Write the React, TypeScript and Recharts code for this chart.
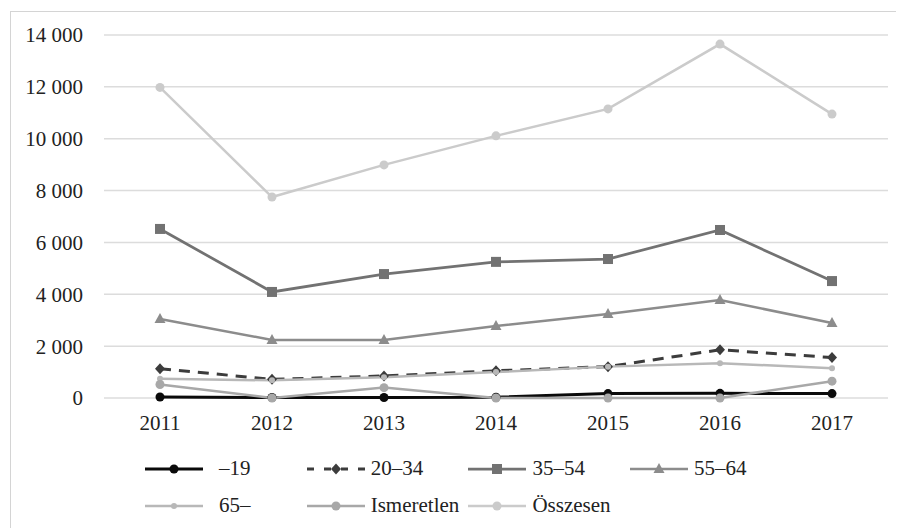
import { CartesianGrid, Legend, Line, LineChart, XAxis, YAxis } from "recharts";

const years = ['2011', '2012', '2013', '2014', '2015', '2016', '2017'];
const under19 = [40, 20, 20, 30, 170, 180, 170];
const age20to34 = [1130, 720, 850, 1050, 1210, 1860, 1560];
const age35to54 = [6520, 4090, 4780, 5250, 5360, 6480, 4510];
const age55to64 = [3050, 2240, 2240, 2780, 3240, 3780, 2890];
const over65 = [740, 680, 800, 1000, 1210, 1340, 1150];
const unknown = [520, 0, 400, 0, 0, 0, 650];
const total = [11980, 7750, 8990, 10110, 11150, 13650, 10950];
const yTicks = [0, 2000, 4000, 6000, 8000, 10000, 12000, 14000];

const data = years.map((year, i) => ({
  year,
  u19: under19[i],
  a2034: age20to34[i],
  a3554: age35to54[i],
  a5564: age55to64[i],
  o65: over65[i],
  unk: unknown[i],
  tot: total[i],
}));

type Shape = 'circle' | 'diamond' | 'square' | 'triangle' | 'small';

const series: { key: string; name: string; color: string; width: number; dash?: string; shape: Shape }[] = [
  { key: 'u19', name: '–19', color: '#0a0a0a', width: 3, shape: 'circle' },
  { key: 'a2034', name: '20–34', color: '#3c3c3c', width: 3, dash: '11 8', shape: 'diamond' },
  { key: 'a3554', name: '35–54', color: '#727272', width: 2.75, shape: 'square' },
  { key: 'a5564', name: '55–64', color: '#8c8c8c', width: 2.5, shape: 'triangle' },
  { key: 'o65', name: '65–', color: '#b8b8b8', width: 2.5, shape: 'small' },
  { key: 'unk', name: 'Ismeretlen', color: '#a8a8a8', width: 2.5, shape: 'circle' },
  { key: 'tot', name: 'Összesen', color: '#cbcbcb', width: 2.5, shape: 'circle' },
];

const font = '"Liberation Serif", "Times New Roman", serif';

function Marker({ x, y, shape, color }: { x: number; y: number; shape: Shape; color: string }) {
  if (shape === 'square') return <rect x={x - 5} y={y - 5} width={10} height={10} fill={color} />;
  if (shape === 'diamond') return <path d={`M${x},${y - 5.5}L${x + 5},${y}L${x},${y + 5.5}L${x - 5},${y}Z`} fill={color} />;
  if (shape === 'triangle') return <path d={`M${x},${y - 6}L${x + 5.5},${y + 4}L${x - 5.5},${y + 4}Z`} fill={color} />;
  if (shape === 'small') return <circle cx={x} cy={y} r={3} fill={color} />;
  return <circle cx={x} cy={y} r={4.5} fill={color} />;
}

function LegendContent() {
  return (
    <div
      style={{
        height: 100,
        width: 893,
        boxSizing: 'border-box',
        paddingTop: 22,
        paddingLeft: 134,
        display: 'grid',
        gridTemplateColumns: 'repeat(4, 161.7px)',
        gridAutoRows: 37,
        fontFamily: font,
        fontSize: 21,
        color: '#222',
      }}
    >
      {series.map((s) => (
        <div key={s.key} style={{ display: 'flex', alignItems: 'center' }}>
          <svg width={60} height={16} style={{ marginRight: s.name.startsWith('–') || s.name.endsWith('–') ? 14 : 4 }}>
            <line x1={0} y1={8} x2={58} y2={8} stroke={s.color} strokeWidth={s.width} strokeDasharray={s.dash ? '7 10' : undefined} />
            <Marker x={29} y={8} shape={s.shape} color={s.color} />
          </svg>
          <span>{s.name}</span>
        </div>
      ))}
    </div>
  );
}

export default function App() {
  return (
    <div style={{ marginLeft: 2, marginTop: 3, border: '1px solid #d4d4d4', width: 893, height: 516, background: '#fff' }}>
      <LineChart width={893} height={516} data={data} margin={{ top: 23, right: 16, left: 13, bottom: 0 }}>
        <CartesianGrid vertical={false} stroke="#dcdcdc" strokeWidth={1.5} />
        <XAxis
          dataKey="year"
          axisLine={false}
          tickLine={false}
          tickSize={0}
          tickMargin={17}
          height={30}
          padding={{ left: 56, right: 56 }}
          tick={{ fill: '#222', fontSize: 21, fontFamily: font }}
        />
        <YAxis
          domain={[0, 14000]}
          ticks={yTicks}
          width={80}
          axisLine={false}
          tickLine={false}
          tickSize={0}
          tickMargin={21}
          tickFormatter={(v: number) => v.toLocaleString('en-US').replace(',', ' ')}
          tick={{ fill: '#222', fontSize: 21, fontFamily: font }}
        />
        <Legend verticalAlign="bottom" wrapperStyle={{ left: 0, width: 893 }} content={() => <LegendContent />} />
        {series.map((s) => (
          <Line
            key={s.key}
            dataKey={s.key}
            name={s.name}
            stroke={s.color}
            strokeWidth={s.width}
            strokeDasharray={s.dash}
            isAnimationActive={false}
            dot={(p: any) => <Marker key={`${s.key}-${p.index}`} x={p.cx} y={p.cy} shape={s.shape} color={s.color} />}
            activeDot={false}
          />
        ))}
      </LineChart>
    </div>
  );
}
